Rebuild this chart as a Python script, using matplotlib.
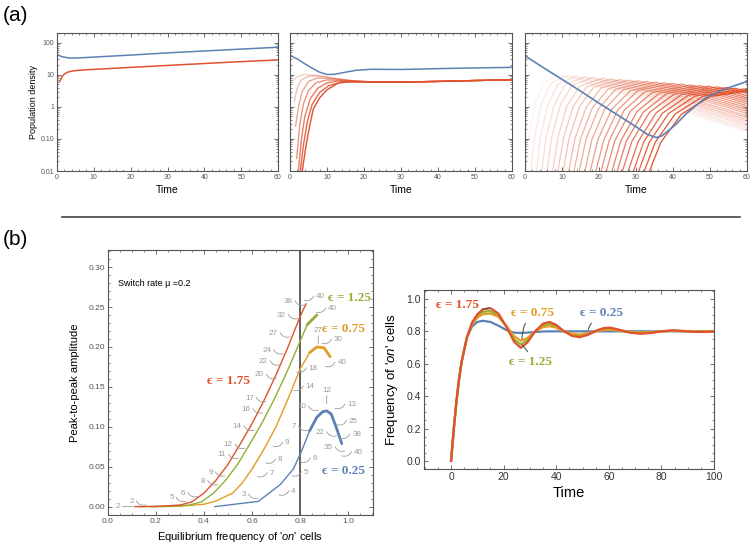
import matplotlib.pyplot as plt
import numpy as np
from matplotlib.ticker import MultipleLocator, FixedLocator, FixedFormatter, LogLocator, NullFormatter
from matplotlib.transforms import offset_copy

plt.rcParams['font.family'] = ['Liberation Sans', 'DejaVu Sans']
plt.rcParams['mathtext.fontset'] = 'custom'
plt.rcParams['mathtext.rm'] = 'Liberation Sans'
plt.rcParams['mathtext.it'] = 'Liberation Sans:italic'

BLUE = '#5e81b5'
RED = '#e0512d'
GREEN = '#8fb032'
ORANGE = '#e19c24'
GRAY = '#9a9a9a'
SERIF = ['Liberation Serif', 'DejaVu Serif']

# ---------------- panel (a) data ----------------
a1_blue_t = [0, 1.5, 3.5, 6, 10, 20, 30, 40, 50, 60]
a1_blue_y = [42, 36, 33, 33.5, 35.5, 41, 48, 55, 63, 72]
a1_red_t = [0.8, 1.3, 2, 3, 5, 8, 15, 30, 45, 60]
a1_red_y = [6.3, 8.5, 10.5, 12.2, 13.5, 14.3, 15.8, 19.5, 24, 29]

a2_blue_t = [0, 2, 4, 6, 8, 10, 12, 15, 18, 22, 30, 40, 50, 60]
a2_blue_y = [40, 31, 22, 16, 12, 10.2, 10.3, 12, 13.8, 14.8, 14.6, 15.5, 16.3, 17]
a2_red_t = [
    [0.9, 2, 4, 7, 11, 15, 20, 25, 30, 40, 50, 60],
    [1.2, 2, 3, 5, 8, 12, 17, 22, 25, 30, 40, 50, 60],
    [1.5, 2.3, 3.3, 5, 7.5, 11, 16, 22, 25, 30, 40, 50, 60],
    [1.8, 2.6, 3.6, 5, 7, 10, 14, 20, 25, 30, 40, 50, 60],
    [2.2, 3.0, 4, 5.5, 7.5, 10, 13, 18, 25, 30, 40, 50, 60],
    [2.7, 3.6, 4.7, 6, 8, 10.5, 14, 20, 25, 30, 40, 50, 60],
    [3.2, 4.2, 5.3, 6.3, 8, 10, 13, 16, 22, 25, 30, 40, 50, 60],
]
a2_red_y = [
    [6.5, 9.0, 10.2, 9.7, 8.0, 6.8, 6.1, 5.9, 5.9, 6.2, 6.6, 7.0],
    [1.5, 4.0, 6.8, 9.0, 9.2, 7.8, 6.5, 6.0, 5.9, 5.9, 6.2, 6.6, 7.0],
    [0.25, 1.0, 3.0, 6.2, 8.0, 7.6, 6.6, 6.0, 5.9, 5.9, 6.2, 6.6, 7.0],
    [0.025, 0.25, 1.2, 3.2, 5.6, 6.9, 6.7, 6.1, 5.9, 5.9, 6.2, 6.6, 7.0],
    [0.008, 0.08, 0.5, 1.8, 3.8, 5.6, 6.4, 6.1, 5.9, 5.9, 6.2, 6.6, 7.0],
    [0.008, 0.06, 0.35, 1.2, 2.8, 4.6, 6.0, 6.0, 5.9, 5.9, 6.2, 6.6, 7.0],
    [0.008, 0.05, 0.25, 0.85, 1.9, 3.4, 5.5, 6.0, 6.0, 5.9, 5.9, 6.2, 6.6, 7.0],
]

a3_blue_t = [0, 5, 10, 15, 20, 25, 30, 33, 35.5, 37, 39, 41, 43.5, 46, 48.5, 51, 54, 57, 60]
a3_blue_y = [39, 16.5, 7.2, 3.1, 1.3, 0.56, 0.24, 0.14, 0.11, 0.125, 0.19, 0.3, 0.6, 1.05, 1.8, 2.5, 3.6, 4.7, 6.2]
a3_red_t = [
    [0, 1.1, 2.7, 5.0, 9, 60],
    [1.4, 2.6, 4.4, 6.9, 11.4, 60],
    [2.9, 4.2, 6.2, 8.9, 13.8, 60],
    [4.3, 5.7, 7.9, 10.8, 16.2, 60],
    [5.7, 7.2, 9.5, 12.7, 18.5, 60],
    [7.2, 8.9, 11.3, 14.8, 21.0, 60],
    [8.6, 10.4, 13.0, 16.7, 23.3, 60],
    [10.0, 11.9, 14.7, 18.6, 25.7, 60],
    [11.5, 13.5, 16.5, 20.6, 28.1, 60],
    [12.9, 15.0, 18.2, 22.6, 30.5, 60],
    [14.3, 16.5, 19.9, 24.5, 32.9, 60],
    [15.8, 18.1, 21.6, 26.5, 35.3, 60],
    [17.2, 19.7, 23.4, 28.5, 37.7, 60],
    [18.7, 21.3, 25.1, 30.5, 40.1, 60],
    [20.1, 22.8, 26.8, 32.4, 42.5, 60],
    [21.5, 24.3, 28.5, 34.4, 44.9, 60],
    [23.0, 25.9, 30.3, 36.4, 47.3, 60],
    [24.4, 27.4, 32.0, 38.3, 49.7, 60],
    [25.8, 28.9, 33.7, 40.2, 52.0, 60],
    [27.3, 30.6, 35.5, 42.3, 54.5, 60],
    [28.7, 32.1, 37.1, 44.2, 56.8, 60],
    [30.1, 33.6, 38.8, 46.1, 59.2, 60],
    [31.6, 35.2, 40.6, 48.1, 60],
    [33.0, 36.7, 42.3, 50.1, 60],
]
a3_red_y = [
    [0.0063, 0.12, 1.26, 5.5, 10, 0.17],
    [0.0063, 0.12, 1.23, 5.4, 9.5, 0.19],
    [0.0063, 0.115, 1.2, 5.1, 9.1, 0.22],
    [0.0063, 0.115, 1.15, 4.9, 8.7, 0.26],
    [0.0063, 0.11, 1.1, 4.7, 8.2, 0.30],
    [0.0063, 0.11, 1.05, 4.4, 7.8, 0.35],
    [0.0063, 0.107, 1.02, 4.2, 7.4, 0.40],
    [0.0063, 0.105, 1.0, 4.1, 7.1, 0.46],
    [0.0063, 0.102, 0.95, 3.9, 6.8, 0.52],
    [0.0063, 0.10, 0.93, 3.7, 6.5, 0.62],
    [0.0063, 0.10, 0.89, 3.5, 6.2, 0.71],
    [0.0063, 0.098, 0.87, 3.4, 5.9, 0.81],
    [0.0063, 0.095, 0.83, 3.2, 5.6, 0.93],
    [0.0063, 0.093, 0.81, 3.2, 5.4, 1.08],
    [0.0063, 0.091, 0.78, 2.95, 5.1, 1.26],
    [0.0063, 0.089, 0.74, 2.8, 4.8, 1.45],
    [0.0063, 0.087, 0.72, 2.7, 4.6, 1.66],
    [0.0063, 0.087, 0.69, 2.6, 4.4, 1.9],
    [0.0063, 0.085, 0.68, 2.45, 4.2, 2.2],
    [0.0063, 0.083, 0.66, 2.4, 4.0, 2.6],
    [0.0063, 0.081, 0.63, 2.3, 3.8, 2.95],
    [0.0063, 0.079, 0.62, 2.2, 3.6, 3.4],
    [0.0063, 0.079, 0.60, 2.14, 3.3],
    [0.0063, 0.078, 0.59, 2.1, 3.1],
]
a_yticks = [0.01, 0.1, 1, 10, 100]
a_ylabels = ['0.01', '0.10', '1', '10', '100']

# ---------------- panel (b) left data ----------------
amp_x = {
    '1.75': [0.11, 0.2, 0.3, 0.35, 0.4, 0.45, 0.5, 0.55, 0.6, 0.65, 0.7, 0.75, 0.8, 0.825],
    '1.25': [0.13, 0.25, 0.34, 0.39, 0.44, 0.49, 0.54, 0.59, 0.64, 0.69, 0.74, 0.79, 0.83, 0.87],
    '0.75': [0.18, 0.3, 0.4, 0.45, 0.52, 0.56, 0.6, 0.65, 0.7, 0.75, 0.8, 0.84, 0.87, 0.9, 0.925],
    '0.25': [0.445, 0.626, 0.717, 0.772, 0.807, 0.84, 0.87, 0.895, 0.911, 0.93, 0.95, 0.974],
}
amp_y = {
    '1.75': [0.0, 0.0003, 0.002, 0.006, 0.017, 0.033, 0.053, 0.078, 0.104, 0.133, 0.165, 0.2, 0.238, 0.254],
    '1.25': [0.0, 0.0003, 0.002, 0.006, 0.017, 0.033, 0.053, 0.078, 0.104, 0.133, 0.165, 0.2, 0.228, 0.24],
    '0.75': [0.0, 0.0005, 0.003, 0.007, 0.017, 0.03, 0.047, 0.072, 0.1, 0.135, 0.172, 0.193, 0.2, 0.199, 0.188],
    '0.25': [0.0, 0.0066, 0.0275, 0.047, 0.07, 0.095, 0.112, 0.119, 0.12, 0.116, 0.1, 0.079],
}
eps_colors = {'1.75': RED, '1.25': GREEN, '0.75': ORANGE, '0.25': BLUE}
eps_label_pos = {'1.75': (0.50, 0.157), '1.25': (1.008, 0.261), '0.75': (0.98, 0.222), '0.25': (0.98, 0.045)}

# number tags: text left of the curve / right of the curve / above it
tags_left = [
    (0.099, 0.0066, '2'), (0.265, 0.011, '5'), (0.314, 0.017, '6'), (0.397, 0.032, '8'),
    (0.428, 0.043, '9'), (0.474, 0.065, '11'), (0.501, 0.0775, '12'), (0.539, 0.10, '14'),
    (0.575, 0.122, '16'), (0.589, 0.136, '17'), (0.631, 0.165, '20'), (0.647, 0.182, '22'),
    (0.661, 0.196, '24'), (0.689, 0.217, '27'), (0.723, 0.240, '32'), (0.751, 0.257, '38'),
    (0.567, 0.015, '3'), (0.775, 0.100, '7'), (0.807, 0.125, '10'), (0.883, 0.093, '22'),
    (0.918, 0.074, '35'),
]
tags_right = [
    (0.886, 0.263, '40'), (0.936, 0.248, '40'), (0.960, 0.209, '30'), (0.855, 0.173, '18'),
    (0.974, 0.180, '40'), (0.747, 0.080, '9'), (0.717, 0.059, '8'), (0.682, 0.042, '7'),
    (0.772, 0.019, '4'), (0.825, 0.043, '5'), (0.862, 0.060, '6'), (1.015, 0.1275, '13'),
    (1.022, 0.107, '25'), (1.036, 0.090, '38'), (1.043, 0.068, '40'), (0.842, 0.150, '14'),
]
tags_up = [(0.876, 0.221, '27'), (0.911, 0.146, '12')]
tag_far = (0.043, 0.0, '2')

# ---------------- panel (b) right data ----------------
freq_t = [0, 1, 2, 3, 4, 6, 8, 10, 12, 15, 18, 21, 24, 26.5, 29, 32, 35, 37.5, 40, 43,
          46, 49, 52, 55, 58, 60.5, 64, 68, 72, 76, 80, 84, 88, 92, 96, 100]
freq = {
    '0.25': [0, 0.19, 0.36, 0.5, 0.61, 0.76, 0.83, 0.858, 0.865, 0.858, 0.835, 0.808, 0.792, 0.79,
             0.792, 0.796, 0.799, 0.8, 0.8, 0.8, 0.8, 0.8, 0.8, 0.8, 0.8, 0.8, 0.8, 0.8, 0.8, 0.8,
             0.8, 0.8, 0.8, 0.8, 0.8, 0.8],
    '1.25': [0, 0.19, 0.36, 0.5, 0.61, 0.76, 0.85, 0.895, 0.92, 0.925, 0.895, 0.83, 0.75, 0.72,
             0.745, 0.8, 0.838, 0.845, 0.83, 0.8, 0.778, 0.772, 0.782, 0.8, 0.813, 0.815, 0.806,
             0.794, 0.789, 0.792, 0.8, 0.804, 0.802, 0.798, 0.797, 0.799],
    '0.75': [0, 0.19, 0.36, 0.5, 0.61, 0.76, 0.845, 0.885, 0.905, 0.91, 0.89, 0.835, 0.77, 0.742,
             0.758, 0.8, 0.826, 0.832, 0.822, 0.8, 0.785, 0.78, 0.788, 0.8, 0.808, 0.81, 0.804,
             0.796, 0.793, 0.795, 0.8, 0.803, 0.801, 0.799, 0.798, 0.799],
    '1.75': [0, 0.19, 0.36, 0.5, 0.61, 0.76, 0.855, 0.905, 0.935, 0.943, 0.91, 0.83, 0.735, 0.698,
             0.73, 0.8, 0.848, 0.858, 0.84, 0.8, 0.772, 0.764, 0.778, 0.803, 0.82, 0.823, 0.81,
             0.792, 0.785, 0.79, 0.8, 0.806, 0.803, 0.797, 0.796, 0.799],
}
# (label position, point the leader goes to)
freq_notes = {
    '1.75': ((2.3, 0.963), (15.0, 0.948)),
    '0.75': ((30.8, 0.912), (27.0, 0.745)),
    '0.25': ((57.4, 0.912), (52.0, 0.803)),
    '1.25': ((30.4, 0.613), (26.5, 0.722)),
}


def frame(ax, size, color='#555555'):
    for s in ax.spines.values():
        s.set_color('#555555')
        s.set_linewidth(0.8)
    ax.tick_params(which='both', direction='in', top=True, right=True,
                   color='#555555', labelsize=size, labelcolor=color, pad=2)
    ax.tick_params(which='major', length=3, width=0.6)
    ax.tick_params(which='minor', length=1.6, width=0.5)


fig = plt.figure(figsize=(7.54, 5.49), dpi=100)

# ---------- (a) ----------
pos_a = [[0.0756, 0.6885, 0.2931, 0.2514],
         [0.3846, 0.6885, 0.2944, 0.2514],
         [0.6963, 0.6885, 0.2944, 0.2514]]
axes_a = [fig.add_axes(p) for p in pos_a]
for i, ax in enumerate(axes_a):
    ax.set_yscale('log')
    ax.set_xlim(0, 60)
    ax.set_ylim(0.01, 200)
    ax.yaxis.set_major_locator(FixedLocator(a_yticks))
    ax.yaxis.set_minor_locator(LogLocator(subs=np.arange(2, 10)))
    ax.yaxis.set_minor_formatter(NullFormatter())
    if i == 0:
        ax.yaxis.set_major_formatter(FixedFormatter(a_ylabels))
        ax.set_ylabel('Population density', fontsize=6.5, labelpad=2)
    else:
        ax.yaxis.set_major_formatter(NullFormatter())
    ax.xaxis.set_major_locator(MultipleLocator(10))
    ax.xaxis.set_minor_locator(MultipleLocator(2))
    ax.set_xlabel('Time', fontsize=7.5, labelpad=3)
    frame(ax, 5)

axes_a[0].plot(a1_blue_t, a1_blue_y, color=BLUE, lw=1.1)
axes_a[0].plot(a1_red_t, a1_red_y, color=RED, lw=1.1)

n2 = len(a2_red_t)
for k in range(n2):
    axes_a[1].plot(a2_red_t[k], a2_red_y[k], color=RED, lw=1.0, alpha=0.25 + 0.75 * k / (n2 - 1))
axes_a[1].plot(a2_blue_t, a2_blue_y, color=BLUE, lw=1.1)

n3 = len(a3_red_t)
for k in range(n3):
    axes_a[2].plot(a3_red_t[k], a3_red_y[k], color=RED, lw=0.9, alpha=0.08 + 0.92 * k / (n3 - 1))
axes_a[2].plot(a3_blue_t, a3_blue_y, color=BLUE, lw=1.2)

fig.add_artist(plt.Line2D([0.082, 0.981], [0.6047, 0.6047], color='#444444', lw=1.2))
fig.text(0.004, 0.972, '(a)', fontsize=15, va='center')
fig.text(0.004, 0.563, '(b)', fontsize=15, va='center')

# ---------- (b) left ----------
ax = fig.add_axes([0.1432, 0.0619, 0.3515, 0.4827])
ax.set_xlim(0, 1.104)
ax.set_ylim(-0.0105, 0.3215)
ax.xaxis.set_major_locator(MultipleLocator(0.2))
ax.xaxis.set_minor_locator(MultipleLocator(0.05))
ax.yaxis.set_major_locator(MultipleLocator(0.05))
ax.yaxis.set_minor_locator(MultipleLocator(0.01))
ax.xaxis.set_major_formatter(plt.FuncFormatter(lambda v, p: f'{v:.1f}'))
ax.yaxis.set_major_formatter(plt.FuncFormatter(lambda v, p: f'{v:.2f}'))
frame(ax, 6)
ax.set_xlabel("Equilibrium frequency of '$\\it{on}$' cells", fontsize=8, labelpad=4)
ax.set_ylabel('Peak-to-peak amplitude', fontsize=8, labelpad=6)
ax.axvline(0.8, color='#555555', lw=1.3, zorder=1)

for key in ['0.25', '0.75', '1.25', '1.75']:
    xs = np.array(amp_x[key])
    ys = np.array(amp_y[key])
    ax.plot(xs, ys, color=eps_colors[key], lw=1.0, zorder=3)
    if key != '1.75':
        m = xs >= 0.82
        ax.plot(xs[m], ys[m], color=eps_colors[key], lw=2.0, zorder=3, solid_capstyle='round')
    lx, ly = eps_label_pos[key]
    ax.text(lx, ly, f'ϵ = {key}', color=eps_colors[key], fontsize=9.5, family=SERIF,
            fontweight='bold', ha='center', va='center')

ax.text(0.04, 0.28, 'Switch rate μ =0.2', fontsize=6.5, va='center')


def leader(ax, x, y, p0, p1, rad):
    t0 = offset_copy(ax.transData, fig=ax.figure, x=p0[0], y=p0[1], units='points')
    t1 = offset_copy(ax.transData, fig=ax.figure, x=p1[0], y=p1[1], units='points')
    ax.annotate('', xy=(x, y), xycoords=t1, xytext=(x, y), textcoords=t0,
                arrowprops=dict(arrowstyle='-', color=GRAY, lw=0.6, shrinkA=0, shrinkB=0,
                                connectionstyle=f'arc3,rad={rad}'))


TS = 5.8
for x, y, s in tags_left:
    ax.text(x, y, s, fontsize=TS, color=GRAY, ha='center', va='center')
    w = 1.7 * len(s)
    leader(ax, x, y, (w + 1.5, 0.5), (w + 8.5, -2.5), 0.4)
for x, y, s in tags_right:
    ax.text(x, y, s, fontsize=TS, color=GRAY, ha='center', va='center')
    w = 1.7 * len(s)
    leader(ax, x, y, (-w - 1.5, 0.5), (-w - 8.5, -2.5), -0.4)
for x, y, s in tags_up:
    ax.text(x, y, s, fontsize=TS, color=GRAY, ha='center', va='center')
    leader(ax, x, y, (0, -4), (0, -10), 0)
x, y, s = tag_far
ax.text(x, y, s, fontsize=TS, color=GRAY, ha='center', va='center')
leader(ax, x, y, (3, 0), (10, 0), 0)

# ---------- (b) right ----------
ax = fig.add_axes([0.5623, 0.1457, 0.3846, 0.3260])
ax.set_xlim(-10.3, 100)
ax.set_ylim(-0.05, 1.055)
ax.xaxis.set_major_locator(MultipleLocator(20))
ax.xaxis.set_minor_locator(MultipleLocator(5))
ax.yaxis.set_major_locator(MultipleLocator(0.2))
ax.yaxis.set_minor_locator(MultipleLocator(0.05))
ax.yaxis.set_major_formatter(plt.FuncFormatter(lambda v, p: f'{v:.1f}'))
frame(ax, 7.5, color='#333333')
ax.set_xlabel('Time', fontsize=10.5, labelpad=3)
ax.set_ylabel("Frequency of '$\\it{on}$' cells", fontsize=9.5, labelpad=5)

for key in ['0.25', '1.25', '0.75', '1.75']:
    ax.plot(freq_t, freq[key], color=eps_colors[key], lw=1.6)
for key, (txt, tip) in freq_notes.items():
    ax.annotate(f'ϵ = {key}', xy=tip, xytext=txt, color=eps_colors[key], fontsize=9.5,
                family=SERIF, fontweight='bold', ha='center', va='center',
                arrowprops=dict(arrowstyle='-', color='#555555', lw=0.8, shrinkA=1, shrinkB=1,
                                connectionstyle='arc3,rad=0.2'))

fig.savefig('out.png', dpi=100)
